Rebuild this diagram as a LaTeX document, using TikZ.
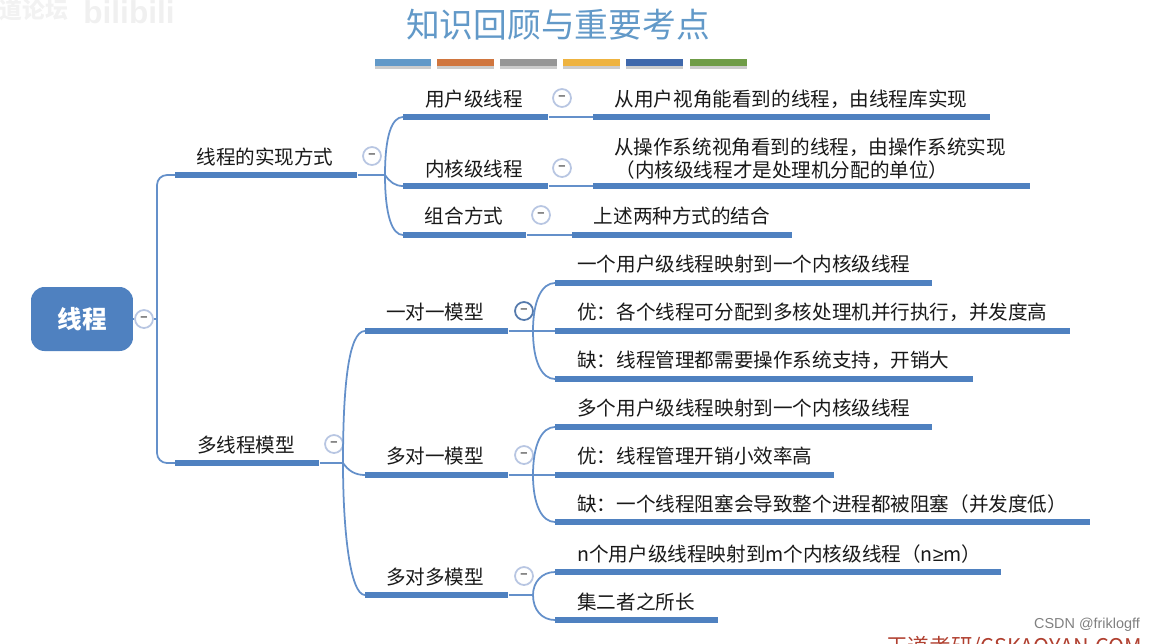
\documentclass[tikz,border=0pt]{standalone}
\usepackage{fontspec}
\setmainfont{Noto Sans CJK SC}
\newfontfamily\latinfont{Liberation Sans}
\usetikzlibrary{positioning, shadows}

\definecolor{barblue}{HTML}{4F81C0}
\definecolor{linkblue}{HTML}{6490CA}
\definecolor{titleblue}{HTML}{6299C8}
\definecolor{foldring}{HTML}{B8C6E2}
\definecolor{striporange}{HTML}{D0763F}
\definecolor{stripgray}{HTML}{969696}
\definecolor{stripyellow}{HTML}{EEB340}
\definecolor{stripnavy}{HTML}{3F68AB}
\definecolor{stripgreen}{HTML}{6F9C47}
\definecolor{markred}{HTML}{B04030}

\begin{document}
\begin{tikzpicture}[
    x=0.02cm, y=-0.02cm,
    every node/.style={font=\fontsize{11.15}{13}\selectfont, text=black!90, inner sep=0pt},
    rootbox/.style={rectangle, rounded corners=0.27cm, fill=barblue, minimum width=2.04cm, minimum height=1.28cm, font=\fontsize{14}{16}\selectfont\bfseries, text=white},
    bar/.style={rectangle, fill=barblue, minimum height=0.125cm, anchor=west},
    strip/.style={rectangle, minimum width=1.14cm, minimum height=0.14cm, drop shadow={shadow xshift=0cm, shadow yshift=-0.06cm, opacity=0.4}},
    fold/.style={circle, draw=foldring, line width=1pt, fill=white, minimum size=0.36cm, font=\footnotesize\bfseries, text=black!55},
    foldon/.style={fold, draw=linkblue!85!black},
    link/.style={draw=linkblue, line width=1pt},
    leaf/.style={anchor=west},
]

\useasboundingbox (0,0) rectangle (1156,643);

% Title and colour strip
\node[font=\fontsize{19.2}{22}\selectfont, text=titleblue] (title) at (558,25) {知识回顾与重要考点};
\node[strip, fill=titleblue] (strip1) at (403,62.5) {};
\node[strip, fill=striporange] (strip2) at (465,62.5) {};
\node[strip, fill=stripgray] (strip3) at (528.5,62.5) {};
\node[strip, fill=stripyellow] (strip4) at (591.5,62.5) {};
\node[strip, fill=stripnavy] (strip5) at (654.5,62.5) {};
\node[strip, fill=stripgreen] (strip6) at (718,62.5) {};

% Root
\node[rootbox] (root) at (82,319) {线程};
\node[fold] (rootfold) at (144,319) {–};

% Level 1 bars
\node[bar, minimum width=3.64cm] (implbar) at (175,175) {};
\node (impl) at (265,157) {线程的实现方式};
\node[fold] (implfold) at (372,156) {–};
\node[bar, minimum width=2.88cm] (modelbar) at (175,463) {};
\node (model) at (246,445) {多线程模型};
\node[fold] (modelfold) at (334,444) {–};

% Ways of implementing
\node[bar, minimum width=2.9cm] (userbar) at (403,117) {};
\node (user) at (474,99) {用户级线程};
\node[fold] (userfold) at (562,98) {–};
\node[bar, minimum width=7.94cm] (userleafbar) at (593,117) {};
\node (userleaf) at (791,99) {从用户视角能看到的线程，由线程库实现};

\node[bar, minimum width=2.9cm] (kernelbar) at (403,186) {};
\node (kernel) at (474,169) {内核级线程};
\node[fold] (kernelfold) at (562,168) {–};
\node[bar, minimum width=8.74cm] (kernelleafbar) at (593,186) {};
\node (kernelleafa) at (810,147) {从操作系统视角看到的线程，由操作系统实现};
\node (kernelleafb) at (782,170) {（内核级线程才是处理机分配的单位）};

\node[bar, minimum width=2.46cm] (mixbar) at (403,235) {};
\node (mix) at (464,216) {组合方式};
\node[fold] (mixfold) at (541,215) {–};
\node[bar, minimum width=4.4cm] (mixleafbar) at (572,235) {};
\node (mixleaf) at (682,216) {上述两种方式的结合};

% One to one
\node[bar, minimum width=2.86cm] (onebar) at (365,331) {};
\node (one) at (435,312) {一对一模型};
\node[foldon] (onefold) at (524,311) {–};
\node[bar, minimum width=7.54cm] (oneleafabar) at (555,283) {};
\node[leaf] (oneleafa) at (577,264) {一个用户级线程映射到一个内核级线程};
\node[bar, minimum width=10.3cm] (oneleafbbar) at (555,331) {};
\node[leaf] (oneleafb) at (577,312) {优：各个线程可分配到多核处理机并行执行，并发度高};
\node[bar, minimum width=8.36cm] (oneleafcbar) at (555,379) {};
\node[leaf] (oneleafc) at (577,360) {缺：线程管理都需要操作系统支持，开销大};

% Many to one
\node[bar, minimum width=2.86cm] (manybar) at (365,475) {};
\node (many) at (435,456) {多对一模型};
\node[fold] (manyfold) at (524,455) {–};
\node[bar, minimum width=7.54cm] (manyleafabar) at (555,427) {};
\node[leaf] (manyleafa) at (577,408) {多个用户级线程映射到一个内核级线程};
\node[bar, minimum width=5.58cm] (manyleafbbar) at (555,475) {};
\node[leaf] (manyleafb) at (577,456) {优：线程管理开销小效率高};
\node[bar, minimum width=10.7cm] (manyleafcbar) at (555,522) {};
\node[leaf] (manyleafc) at (577,504) {缺：一个线程阻塞会导致整个进程都被阻塞（并发度低）};

% Many to many
\node[bar, minimum width=2.86cm] (bothbar) at (365,595) {};
\node (both) at (435,577) {多对多模型};
\node[fold] (bothfold) at (524,576) {–};
\node[bar, minimum width=8.92cm] (bothleafabar) at (555,572) {};
\node[leaf] (bothleafa) at (577,554) {n个用户级线程映射到m个内核级线程（n{\latinfont ≥}m）};
\node[bar, minimum width=3.26cm] (bothleafbbar) at (555,620) {};
\node[leaf] (bothleafb) at (577,602) {集二者之所长};

% Join points
\coordinate (trunkjoin) at (157,319);
\coordinate (trunktop) at (157,175);
\coordinate (trunkbot) at (157,463);
\coordinate (impljoin) at (385,175);
\coordinate (modeljoin) at (343,463);
\coordinate (onejoin) at (533,331);
\coordinate (manyjoin) at (533,475);
\coordinate (bothjoin) at (533,595);

% Connections
\draw[link] (root) -- (rootfold);
\draw[link] (rootfold) -- (trunkjoin);
\draw[link, rounded corners=0.2cm] (implbar.west) -- (trunktop) -- (trunkbot) -- (modelbar.west);

\draw[link] (implbar.east) -- (impljoin);
\draw[link] (impljoin) .. controls (385,135) and (392,117) .. (userbar.west);
\draw[link] (impljoin) to[out=-55, in=180] (kernelbar.west);
\draw[link] (impljoin) .. controls (385,215) and (392,235) .. (mixbar.west);
\draw[link] (userbar.east) -- (userleafbar.west);
\draw[link] (kernelbar.east) -- (kernelleafbar.west);
\draw[link] (mixbar.east) -- (mixleafbar.west);

\draw[link] (modelbar.east) -- (modeljoin);
\draw[link] (modeljoin) .. controls (343,390) and (348,331) .. (onebar.west);
\draw[link] (modeljoin) to[out=-55, in=180] (manybar.west);
\draw[link] (modeljoin) .. controls (343,530) and (350,595) .. (bothbar.west);

\draw[link] (onebar.east) -- (oneleafbbar.west);
\draw[link] (onejoin) .. controls (533,300) and (542,283) .. (oneleafabar.west);
\draw[link] (onejoin) .. controls (533,362) and (542,379) .. (oneleafcbar.west);

\draw[link] (manybar.east) -- (manyleafbbar.west);
\draw[link] (manyjoin) .. controls (533,444) and (542,427) .. (manyleafabar.west);
\draw[link] (manyjoin) .. controls (533,505) and (542,522) .. (manyleafcbar.west);

\draw[link] (bothbar.east) -- (bothjoin);
\draw[link] (bothjoin) .. controls (533,582) and (542,572) .. (bothleafabar.west);
\draw[link] (bothjoin) .. controls (533,610) and (542,620) .. (bothleafbbar.west);

% Watermarks
\node[font=\fontsize{13}{15}\selectfont\bfseries, text=black!5] (markcn) at (34,10) {道论坛};
\node[font=\latinfont\fontsize{18}{20}\selectfont\bfseries, text=black!6] (markbili) at (129,12) {bilibili};
\node[font=\latinfont\fontsize{8.2}{10}\selectfont, text=black!50] (markcsdn) at (1087,625) {CSDN @friklogff};
\node[anchor=north, font=\fontsize{12.3}{14}\selectfont, text=markred] (markwd) at (1014,636) {王道考研/CSKAOYAN.COM};

\end{tikzpicture}
\end{document}
